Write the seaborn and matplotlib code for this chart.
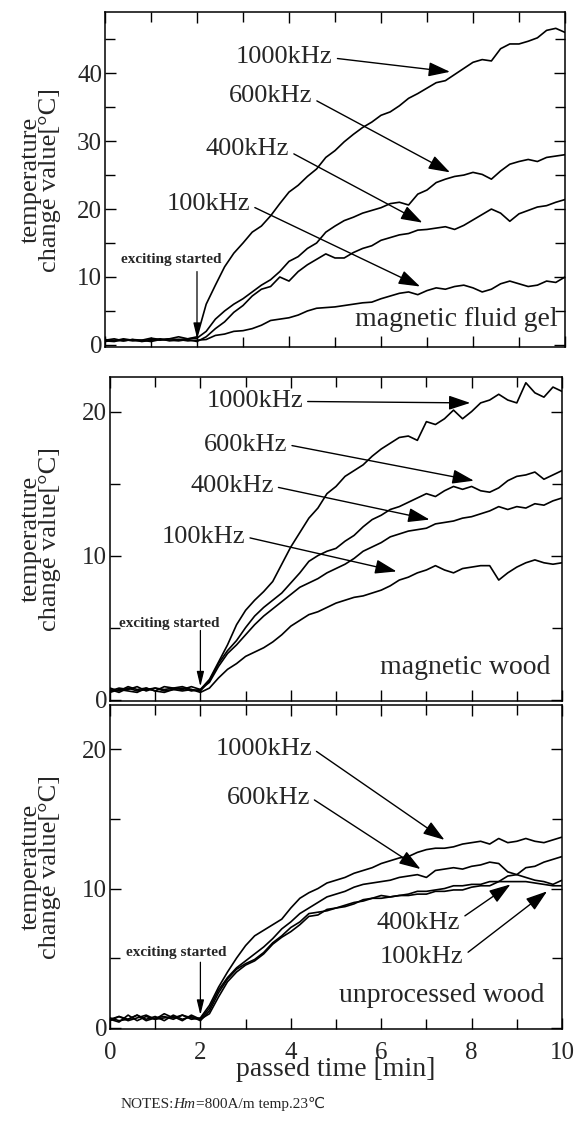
import numpy as np
import pandas as pd
import matplotlib
matplotlib.use("Agg")
import matplotlib.pyplot as plt
from matplotlib.ticker import MultipleLocator
import seaborn as sns

# time axis [min], one reading every 0.2 min
time = [round(0.2 * i, 1) for i in range(51)]
freqs = ["1000kHz", "600kHz", "400kHz", "100kHz"]

# magnetic fluid gel
gel_1000 = [0.7, 0.9, 0.6, 0.8, 0.7, 1.0, 0.8, 0.9, 1.2, 0.9, 1.2,
            6.0, 8.8, 11.5, 13.5, 15.0, 16.6, 17.5, 19.0, 20.8, 22.5,
            23.5, 24.8, 25.9, 27.6, 28.6, 29.9, 31.0, 32.0, 32.8, 33.8,
            34.3, 35.2, 36.3, 37.0, 37.8, 38.6, 38.9, 39.8, 40.7, 41.6,
            42.0, 41.8, 43.6, 44.3, 44.3, 44.7, 45.2, 46.3, 46.6, 46.0]
gel_600 = [0.5, 0.7, 0.6, 0.8, 0.5, 0.7, 0.9, 0.6, 0.8, 0.9, 1.0,
           2.0, 3.8, 5.0, 6.0, 6.8, 7.8, 8.8, 9.6, 10.8, 12.3,
           13.0, 14.2, 15.0, 16.6, 17.5, 18.3, 18.8, 19.4, 19.8, 20.2,
           20.8, 21.0, 20.6, 22.2, 22.8, 23.9, 24.4, 24.8, 25.0, 25.4,
           25.1, 24.4, 25.6, 26.6, 27.0, 27.3, 27.0, 27.6, 27.8, 28.0]
gel_400 = [0.6, 0.5, 0.8, 0.6, 0.7, 0.5, 0.8, 0.7, 0.6, 0.8, 0.5,
           1.2, 2.4, 3.4, 4.8, 5.8, 7.2, 8.2, 8.6, 10.0, 9.4,
           10.8, 11.8, 12.6, 13.4, 12.8, 12.8, 13.6, 14.2, 14.6, 15.4,
           15.8, 16.2, 16.4, 16.9, 17.0, 17.2, 17.4, 17.0, 17.6, 18.4,
           19.2, 20.0, 19.4, 18.2, 19.3, 19.8, 20.3, 20.5, 21.0, 21.4]
gel_100 = [0.8, 0.6, 0.9, 0.7, 0.6, 0.8, 0.7, 0.9, 0.8, 0.6, 0.7,
           0.8, 1.4, 1.6, 2.0, 2.1, 2.4, 2.9, 3.6, 3.8, 4.0,
           4.4, 5.0, 5.4, 5.5, 5.6, 5.8, 6.0, 6.2, 6.3, 6.8,
           7.2, 7.6, 7.8, 7.4, 8.0, 8.4, 8.2, 8.6, 8.8, 8.4,
           7.8, 8.2, 9.0, 9.4, 9.0, 8.6, 8.8, 9.4, 9.2, 10.0]

# magnetic wood
mw_1000 = [0.8, 0.6, 0.9, 0.7, 0.8, 0.6, 0.9, 0.8, 0.7, 0.9, 0.7,
           1.4, 2.6, 3.8, 5.2, 6.2, 6.9, 7.5, 8.2, 9.4, 10.6,
           11.6, 12.6, 13.3, 14.3, 14.8, 15.5, 15.9, 16.3, 16.9, 17.4,
           17.8, 18.2, 18.3, 18.0, 19.3, 19.1, 19.5, 20.1, 19.5, 20.0,
           20.6, 20.8, 21.2, 20.8, 20.6, 22.0, 21.3, 21.0, 21.7, 21.4]
mw_600 = [0.6, 0.8, 0.7, 0.9, 0.6, 0.8, 0.7, 0.8, 0.9, 0.7, 0.6,
          1.3, 2.5, 3.4, 4.1, 5.0, 5.8, 6.4, 6.9, 7.4, 8.1,
          8.8, 9.6, 10.0, 10.3, 10.5, 11.0, 11.4, 12.0, 12.5, 12.8,
          13.2, 13.4, 13.7, 14.0, 14.3, 14.1, 14.5, 14.8, 14.6, 14.8,
          14.5, 14.4, 14.7, 15.2, 15.5, 15.6, 15.8, 15.3, 15.6, 15.9]
mw_400 = [0.7, 0.5, 0.8, 0.6, 0.7, 0.8, 0.6, 0.7, 0.8, 0.6, 0.7,
          1.2, 2.3, 3.2, 3.8, 4.5, 5.2, 5.8, 6.3, 6.8, 7.3,
          7.8, 8.1, 8.4, 8.8, 9.1, 9.4, 9.8, 10.3, 10.6, 10.9,
          11.3, 11.5, 11.7, 11.8, 11.9, 12.2, 12.3, 12.4, 12.6, 12.7,
          12.9, 13.1, 13.4, 13.2, 13.4, 13.3, 13.6, 13.5, 13.8, 14.0]
mw_100 = [0.5, 0.7, 0.6, 0.5, 0.8, 0.6, 0.5, 0.7, 0.6, 0.7, 0.5,
          0.8, 1.5, 2.1, 2.5, 3.0, 3.3, 3.6, 4.0, 4.5, 5.1,
          5.5, 5.9, 6.1, 6.4, 6.7, 6.9, 7.1, 7.2, 7.4, 7.6,
          7.9, 8.3, 8.5, 8.8, 9.0, 9.3, 9.0, 8.8, 9.1, 9.2,
          9.3, 9.3, 8.3, 8.8, 9.2, 9.5, 9.7, 9.5, 9.4, 9.5]

# unprocessed wood
uw_1000 = [0.6, 0.4, 0.9, 0.5, 0.8, 0.6, 1.0, 0.7, 0.9, 0.6, 0.7,
           1.6, 2.9, 4.0, 5.0, 5.9, 6.6, 7.0, 7.4, 7.8, 8.6,
           9.3, 9.7, 10.0, 10.4, 10.6, 10.8, 11.1, 11.3, 11.5, 11.8,
           12.0, 12.2, 12.3, 12.6, 12.8, 12.9, 12.9, 13.0, 13.2, 13.3,
           13.4, 13.2, 13.6, 13.3, 13.4, 13.6, 13.4, 13.3, 13.5, 13.7]
uw_600 = [0.5, 0.8, 0.6, 0.9, 0.5, 0.7, 0.8, 0.6, 0.9, 0.7, 0.6,
          1.4, 2.7, 3.6, 4.3, 4.8, 5.3, 5.8, 6.4, 7.1, 7.6,
          8.2, 8.6, 9.0, 9.4, 9.6, 9.8, 10.1, 10.3, 10.4, 10.5,
          10.6, 10.8, 10.9, 11.0, 10.8, 11.3, 11.4, 11.5, 11.4, 11.6,
          11.7, 11.9, 11.8, 11.2, 11.0, 11.5, 11.6, 11.9, 12.1, 12.3]
uw_400 = [0.7, 0.5, 0.6, 0.9, 0.6, 0.8, 0.5, 0.9, 0.6, 0.8, 0.5,
          1.2, 2.5, 3.5, 4.2, 4.6, 4.9, 5.4, 6.1, 6.6, 7.2,
          7.6, 8.2, 8.3, 8.4, 8.6, 8.8, 9.0, 9.1, 9.3, 9.5,
          9.4, 9.5, 9.5, 9.6, 9.6, 9.8, 9.8, 9.9, 9.9, 10.1,
          10.2, 10.2, 10.5, 10.9, 11.0, 10.8, 10.6, 10.5, 10.3, 10.6]
uw_100 = [0.6, 0.8, 0.5, 0.7, 0.9, 0.6, 0.7, 0.8, 0.5, 0.9, 0.6,
          1.0, 2.2, 3.3, 4.0, 4.5, 4.8, 5.3, 6.0, 6.5, 6.9,
          7.4, 8.0, 8.1, 8.5, 8.6, 8.7, 8.9, 9.2, 9.3, 9.3,
          9.4, 9.5, 9.6, 9.8, 9.8, 9.9, 10.0, 10.2, 10.2, 10.3,
          10.3, 10.5, 10.5, 10.5, 10.5, 10.5, 10.4, 10.3, 10.2, 10.2]

panels = [
    ("magnetic fluid gel", [gel_1000, gel_600, gel_400, gel_100]),
    ("magnetic wood", [mw_1000, mw_600, mw_400, mw_100]),
    ("unprocessed wood", [uw_1000, uw_600, uw_400, uw_100]),
]

sns.set_theme(style="ticks")
plt.rcParams["font.family"] = ["Liberation Serif", "DejaVu Serif"]
plt.rcParams["axes.linewidth"] = 1.1

fig = plt.figure(figsize=(5.75, 11.24), dpi=100)
axes = [
    fig.add_axes([0.1826, 0.6913, 0.8, 0.2980]),
    fig.add_axes([0.1913, 0.3763, 0.7861, 0.2883]),
    fig.add_axes([0.1913, 0.0845, 0.7861, 0.2883]),
]
ylims = [(-0.3, 49), (-0.1, 22.4), (-0.1, 23.2)]
yticks = [[0, 10, 20, 30, 40], [0, 10, 20], [0, 10, 20]]

# label text position, arrow tip, arrow start point on text box
labels = [
    [((3.9, 42.4), (7.5, 40.2), (1, 0.45)),
     ((3.6, 36.6), (7.5, 25.4), (1, 0.4)),
     ((3.1, 28.8), (6.9, 18.0), (1, 0.4)),
     ((2.25, 20.7), (6.85, 8.6), (1, 0.45))],
    [((3.2, 20.7), (7.97, 20.6), (1, 0.5)),
     ((3.0, 17.7), (8.05, 15.2), (1, 0.5)),
     ((2.7, 14.8), (7.07, 12.5), (1, 0.5)),
     ((2.07, 11.3), (6.34, 8.9), (1, 0.5))],
    [((3.4, 20.0), (7.4, 13.5), (1, 0.55)),
     ((3.5, 16.5), (6.87, 11.4), (1, 0.55)),
     ((6.83, 7.5), (8.86, 10.3), (1, 0.7)),
     ((6.9, 5.1), (9.67, 9.8), (1, 0.55))],
]
excite = [((1.45, 12.6), 10.8, 1.0), ((1.3, 5.3), 4.8, 0.9), ((1.46, 5.4), 4.7, 0.9)]
names_pos = [(9.85, 3.8), (9.75, 2.2), (9.6, 2.3)]

arrow = dict(arrowstyle="-|>,head_length=0.6,head_width=0.2", color="black",
             lw=1.0, shrinkA=1, shrinkB=0, mutation_scale=22)

for i, (ax, (name, series)) in enumerate(zip(axes, panels)):
    df = pd.DataFrame({
        "time": time * 4,
        "temp": [v for s in series for v in s],
        "freq": [f for f in freqs for _ in time],
    })
    sns.lineplot(data=df, x="time", y="temp", hue="freq", palette=["black"] * 4,
                 estimator=None, sort=False, legend=False, linewidth=1.2, ax=ax)
    ax.set_xlim(0, 10)
    ax.set_ylim(*ylims[i])
    ax.set_xticks([0, 2, 4, 6, 8, 10])
    ax.xaxis.set_minor_locator(MultipleLocator(1))
    ax.set_yticks(yticks[i])
    ax.yaxis.set_minor_locator(MultipleLocator(5))
    ax.tick_params(which="both", direction="in", top=True, right=True,
                   color="black", width=1.0)
    ax.tick_params(which="major", length=8, labelsize=18, pad=2)
    ax.tick_params(which="minor", length=7)
    ax.tick_params(axis="x", which="major", pad=9)
    ax.set_xlabel("")
    ax.set_ylabel("")
    if i < 2:
        ax.set_xticklabels([])
    for sp in ax.spines.values():
        sp.set_color("black")

    for f, (txt, tip, rel) in zip(freqs, labels[i]):
        ax.annotate(f, xy=tip, xytext=txt, ha="center", va="center", fontsize=19,
                    arrowprops=dict(arrow, relpos=rel))
    (ex, ey), top, bot = excite[i]
    ax.text(ex, ey, "exciting started", ha="center", va="center", fontsize=11,
            fontweight="bold")
    ax.annotate("", xy=(2, bot), xytext=(2, top),
                arrowprops=dict(arrowstyle="-|>,head_length=0.5,head_width=0.12",
                                color="black", lw=0.9, shrinkA=0, shrinkB=0,
                                mutation_scale=18))
    ax.text(names_pos[i][0], names_pos[i][1], name, ha="right", va="center", fontsize=20)

    box = ax.get_position()
    fig.text(0.07, box.y0 + box.height / 2, "temperature\nchange value[°C]",
             rotation=90, ha="center", va="center", multialignment="center",
             fontsize=19, linespacing=0.85)

axes[2].set_xlabel("passed time [min]", fontsize=20)
axes[2].xaxis.set_label_coords(0.5, -0.125)
axes[2].xaxis.label.set_va("center")

t1 = fig.text(0.209, 0.0115, "NOTES:", fontsize=11, va="bottom")
t2 = axes[2].annotate("Hm", xy=(1, 0), xycoords=t1, fontsize=11, style="italic",
                      va="bottom")
axes[2].annotate("=800A/m temp.23℃", xy=(1, 0), xycoords=t2, fontsize=11,
                 va="bottom", family=["Liberation Serif", "DejaVu Sans"])

fig.savefig("out.png", dpi=100)
